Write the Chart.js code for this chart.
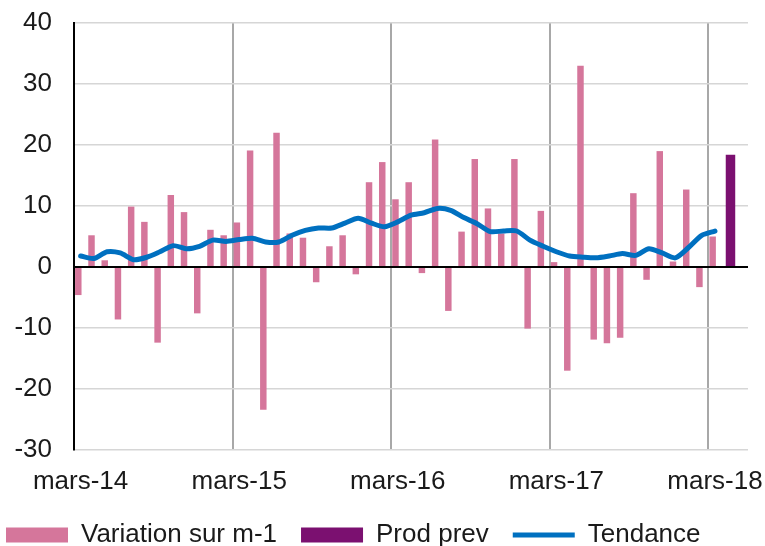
<!DOCTYPE html>
<html>
<head>
<meta charset="utf-8">
<title>Production - variation sur m-1</title>
<script src="https://cdn.jsdelivr.net/npm/chart.js@4.4.1/dist/chart.umd.min.js"></script>
<style>
  html, body { margin: 0; padding: 0; background: #ffffff; }
  #wrap { width: 765px; height: 546px; }
</style>
</head>
<body>
<div id="wrap"><canvas id="prodChart"></canvas></div>
<script>
// =========================
// Data
// =========================
const months = [
  "mars-14", "avr.-14", "mai-14", "juin-14", "juil.-14", "août-14", "sept.-14", "oct.-14", "nov.-14", "déc.-14", "janv.-15", "févr.-15",
  "mars-15", "avr.-15", "mai-15", "juin-15", "juil.-15", "août-15", "sept.-15", "oct.-15", "nov.-15", "déc.-15", "janv.-16", "févr.-16",
  "mars-16", "avr.-16", "mai-16", "juin-16", "juil.-16", "août-16", "sept.-16", "oct.-16", "nov.-16", "déc.-16", "janv.-17", "févr.-17",
  "mars-17", "avr.-17", "mai-17", "juin-17", "juil.-17", "août-17", "sept.-17", "oct.-17", "nov.-17", "déc.-17", "janv.-18", "févr.-18",
  "mars-18", "avr.-18", "mai-18"
];

// monthly change (%), mars-14 .. mars-18
const variation = [
  -4.6, 5.2, 1.1, -8.6, 9.9, 7.4, -12.4, 11.8, 9.0, -7.6, 6.1, 5.2,
  7.3, 19.1, -23.4, 22.0, 5.5, 4.8, -2.5, 3.4, 5.2, -1.2, 13.9, 17.2,
  11.1, 13.9, -1.0, 20.9, -7.2, 5.8, 17.7, 9.6, 5.5, 17.7, -10.1, 9.2,
  0.8, -17.0, 33.0, -11.9, -12.5, -11.6, 12.1, -2.1, 19.0, 0.9, 12.7, -3.3,
  5.0
];

// forecast bar
const prodPrev = [{ x: "avr.-18", y: 18.4 }];

// trend line, mars-14 .. mars-18
const tendance = [
  1.8, 1.4, 2.5, 2.3, 1.2, 1.6, 2.5, 3.5, 3.0, 3.4, 4.4, 4.2,
  4.5, 4.7, 4.1, 4.1, 5.2, 6.0, 6.4, 6.4, 7.2, 8.0, 7.2, 6.6,
  7.4, 8.5, 8.9, 9.6, 9.3, 8.1, 7.1, 5.8, 5.9, 5.9, 4.4, 3.4,
  2.5, 1.8, 1.6, 1.5, 1.8, 2.2, 1.9, 3.0, 2.3, 1.5, 3.2, 5.2,
  5.9
];

const yTicks = { min: -30, max: 40, step: 10 };

// =========================
// Chart
// =========================
const textColor = "#1a1a1a";
const baseFont = { family: "'Liberation Sans', Arial, sans-serif", size: 26 };

const ctx = document.getElementById("prodChart");

new Chart(ctx, {
  type: "bar",
  data: {
    labels: months,
    datasets: [
      {
        label: "Variation sur m-1",
        data: variation,
        backgroundColor: "#d5769b",
        barPercentage: 1.4,
        order: 1,
      },
      {
        label: "Prod prev",
        data: prodPrev,
        backgroundColor: "#7b1070",
        barPercentage: 2.05,
        order: 1,
      },
      {
        type: "line",
        label: "Tendance",
        data: tendance,
        borderColor: "#0070c0",
        backgroundColor: "#0070c0",
        borderWidth: 5,
        borderCapStyle: "round",
        borderJoinStyle: "round",
        tension: 0.25,
        pointRadius: 0,
        fill: false,
        order: 0,
      },
    ],
  },
  options: {
    responsive: true,
    maintainAspectRatio: false,
    animation: false,
    datasets: {
      bar: { categoryPercentage: 0.7, borderWidth: 0 },
    },
    layout: {
      padding: { top: 23, right: 17, bottom: -12, left: -18 },
    },
    plugins: {
      tooltip: { enabled: false },
      legend: {
        position: "bottom",
        align: "start",
        labels: {
          font: baseFont,
          color: textColor,
          padding: 24,
          usePointStyle: true,
          pointStyleWidth: 62,
          boxHeight: 15,
          sort: (a, b) => a.datasetIndex - b.datasetIndex,
          generateLabels: (chart) => {
            const items = Chart.defaults.plugins.legend.labels.generateLabels(chart);
            items.forEach((it) => {
              it.pointStyle = it.datasetIndex === 2 ? "line" : "rect";
            });
            return items;
          },
        },
      },
    },
    scales: {
      x: {
        offset: true,
        afterFit: (scale) => {
          scale.height = 48;
        },
        grid: {
          offset: true,
          drawTicks: false,
          lineWidth: 2,
          color: (c) =>
            c.tick && c.index > 0 && c.index % 12 === 0 ? "#a8a8a8" : "rgba(0,0,0,0)",
        },
        border: { display: false },
        ticks: {
          autoSkip: false,
          maxRotation: 0,
          minRotation: 0,
          padding: 16,
          color: textColor,
          font: baseFont,
          callback: function (value, index) {
            const lbl = this.getLabelForValue(value);
            return lbl.startsWith("mars") ? lbl : "";
          },
        },
      },
      y: {
        min: yTicks.min,
        max: yTicks.max,
        afterFit: (scale) => {
          scale.width = 92;
        },
        grid: {
          drawTicks: true,
          tickLength: 15,
          tickColor: "rgba(0,0,0,0)",
          color: (c) => (c.tick && c.tick.value === 0 ? "#000000" : "#d6d6d6"),
          lineWidth: (c) => (c.tick && c.tick.value === 0 ? 2 : 1.4),
        },
        border: { display: true, color: "#000000", width: 2 },
        ticks: {
          stepSize: yTicks.step,
          padding: 7,
          color: textColor,
          font: baseFont,
        },
      },
    },
  },
});
</script>
</body>
</html>
